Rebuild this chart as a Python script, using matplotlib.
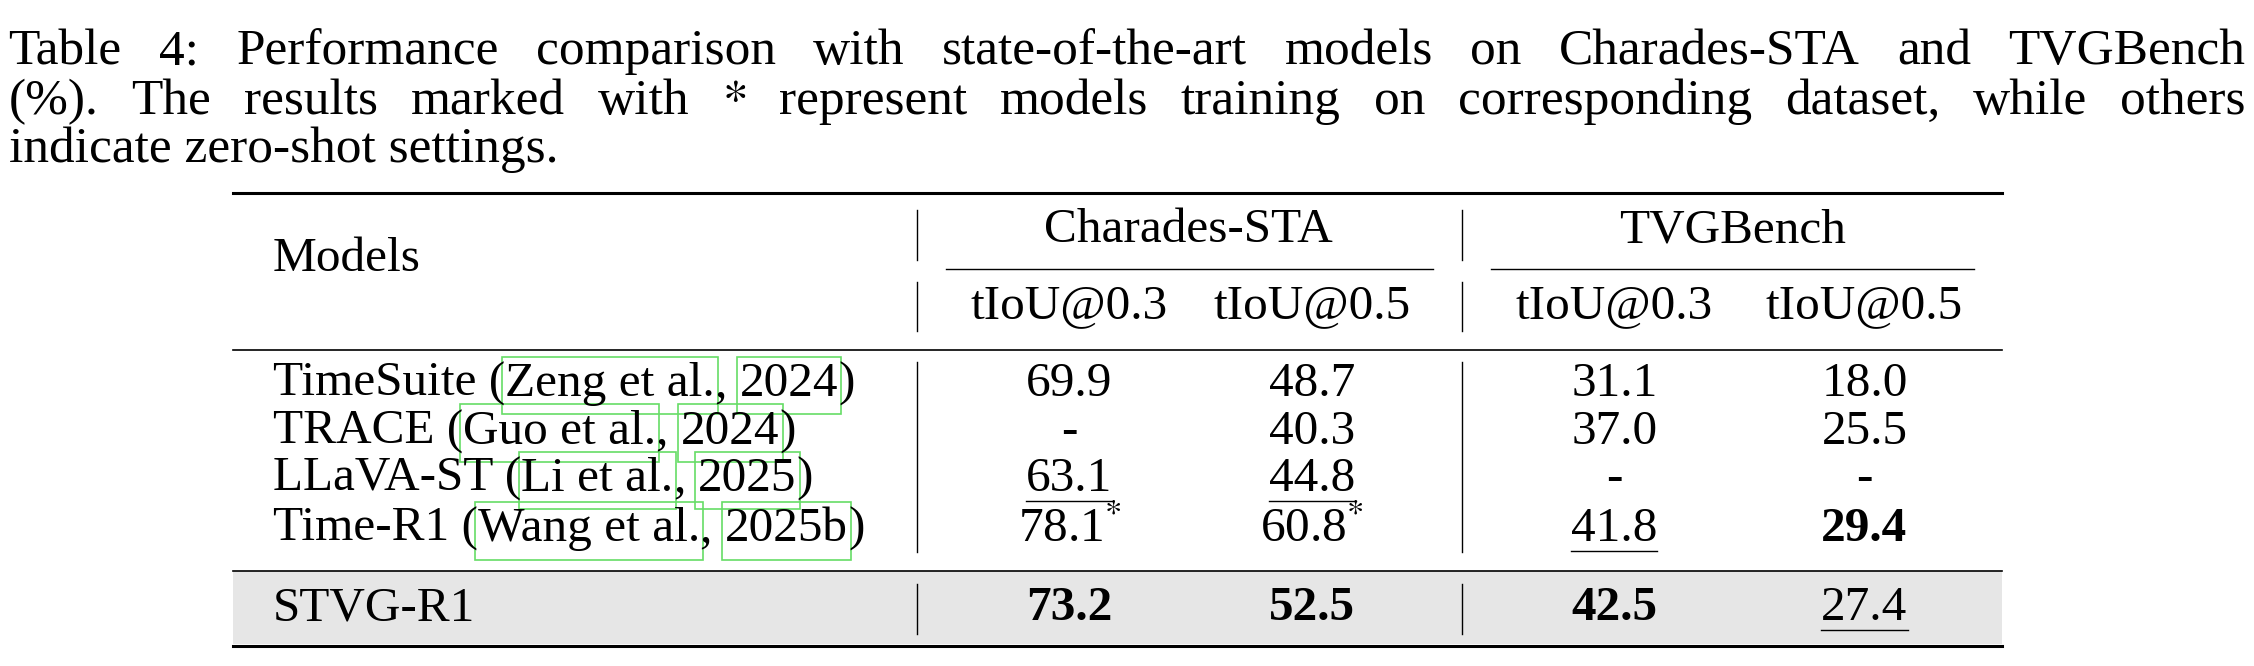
import matplotlib
matplotlib.use("Agg")
import matplotlib.pyplot as plt
from matplotlib.patches import Rectangle

plt.rcParams["font.family"] = ["Liberation Serif", "DejaVu Serif"]
plt.rcParams["mathtext.fontset"] = "stix"

caption = [
    "Table 4: Performance comparison with state-of-the-art models on Charades-STA and TVGBench",
    "(%).  The results marked with $*$ represent models training on corresponding dataset, while others",
    "indicate zero-shot settings.",
]
models = [
    ("TimeSuite (", "Zeng et al.", ", ", "2024", ")"),
    ("TRACE (", "Guo et al.", ", ", "2024", ")"),
    ("LLaVA-ST (", "Li et al.", ", ", "2025", ")"),
    ("Time-R1 (", "Wang et al.", ", ", "2025b", ")"),
]
# columns: Charades 0.3, Charades 0.5, TVG 0.3, TVG 0.5
values = [
    ["69.9", "48.7", "31.1", "18.0"],
    ["-", "40.3", "37.0", "25.5"],
    ["63.1", "44.8", "-", "-"],
    ["78.1$^{*}$", "60.8$^{*}$", "41.8", "29.4"],
]
ours_name = "STVG-R1"
ours = ["73.2", "52.5", "42.5", "27.4"]
# style marks: b = bold, u = underline
style = [
    ["", "", "", ""],
    ["", "", "", ""],
    ["u", "u", "", ""],
    ["", "", "u", "b"],
]
ours_style = ["b", "b", "b", "u"]

W, H = 1568, 463
fig = plt.figure(figsize=(22.54, 6.66), dpi=100)
ax = fig.add_axes([0, 0, 1, 1])
ax.set_xlim(0, W)
ax.set_ylim(H, 0)
ax.axis("off")
fig.canvas.draw()
r = fig.canvas.get_renderer()
sx = 2254 / W

def width(t):
    return t.get_window_extent(r).width / sx

CAP = 37
TAB = 35.5

# caption, first two lines justified
ys = [36, 71, 104]
for i, line in enumerate(caption):
    if i == 2:
        ax.text(6, ys[i], line, fontsize=CAP, va="center")
        continue
    words = [w for w in line.split(" ") if w]
    ts = [ax.text(0, ys[i], w, fontsize=CAP, va="center") for w in words]
    tot = sum(width(t) for t in ts)
    gap = (1562 - 6 - tot) / (len(ts) - 1)
    x = 6
    for t in ts:
        t.set_x(x)
        x += width(t) + gap

L, R = 162, 1393
ax.plot([L, R], [134, 134], color="black", lw=2.2)
ax.plot([L, R], [243, 243], color="black", lw=1.2)
ax.add_patch(Rectangle((L, 397), R - L, 51, color="#e6e6e6", lw=0))
ax.plot([L, R], [397, 397], color="black", lw=1.2)
ax.plot([L, R], [449, 449], color="black", lw=2.2)

ax.text(190, 180, "Models", fontsize=TAB, va="center")
ax.text(827, 160, "Charades-STA", fontsize=TAB, va="center", ha="center")
ax.text(1205, 160, "TVGBench", fontsize=TAB, va="center", ha="center")
ax.plot([658, 997], [187, 187], color="black", lw=1)
ax.plot([1037, 1373], [187, 187], color="black", lw=1)
colx = [744, 913, 1123, 1297]
for x in colx:
    ax.text(x, 213, "tIoU@0.3" if x in (744, 1123) else "tIoU@0.5",
            fontsize=TAB, va="center", ha="center")
for vx in (638, 1017):
    for y0, y1 in [(146, 181), (196, 230), (252, 384), (406, 441)]:
        ax.plot([vx, vx], [y0, y1], color="black", lw=1)

def cell(x, y, s, st):
    t = ax.text(x, y, s, fontsize=TAB, va="center", ha="center",
                fontweight="bold" if "b" in st else "normal")
    if "u" in st:
        w = width(t)
        ax.plot([x - w / 2, x + w / 2], [y + 15, y + 15], color="black", lw=1)

rows_y = [267, 300, 333, 368]
for y, parts, vals, sts in zip(rows_y, models, values, style):
    x = 190
    for j, p in enumerate(parts):
        t = ax.text(x, y, p, fontsize=TAB, va="center")
        w = width(t)
        if j in (1, 3):
            ax.add_patch(Rectangle((x - 2, y - 19), w + 4, 40, fill=False,
                                   edgecolor="#66dd66", lw=1.2))
        x += w
    for cx, v, st in zip(colx, vals, sts):
        cell(cx, y, v, st)

ax.text(190, 423, ours_name, fontsize=TAB, va="center")
for cx, v, st in zip(colx, ours, ours_style):
    cell(cx, 423, v, st)

fig.savefig("out.png", dpi=100)
